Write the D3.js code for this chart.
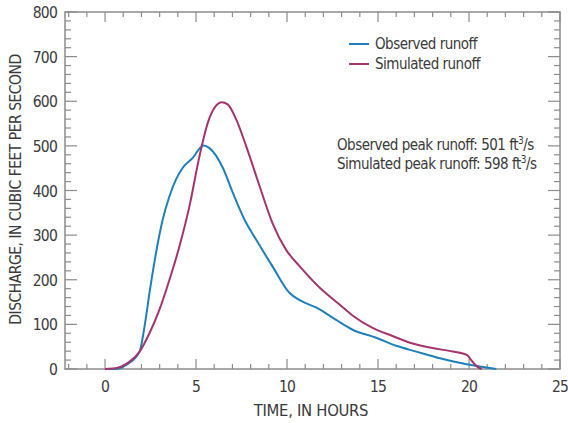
<!DOCTYPE html>
<html>
<head>
<meta charset="utf-8">
<script src="https://cdn.jsdelivr.net/npm/d3@7"></script>
<style>
  body { margin: 0; background: #fff; }
  svg text { font-family: "Liberation Sans Narrow", "DejaVu Sans Condensed", "Roboto", sans-serif; fill: #3a3a3a; }
</style>
</head>
<body>
<svg id="chart" width="568" height="423"></svg>
<script>
// hydrograph, values
var obs_hours = [0, 0.6, 1.16, 1.9, 2.17, 2.44, 2.8, 3.17, 3.54, 3.9, 4.27, 4.82, 5.4, 5.74, 6.47, 7.02, 7.66, 8.3, 9.2, 10.1, 10.8, 11.7, 12.7, 13.6, 14.9, 16.0, 17.1, 18.4, 19.8, 21.5];
var obs_cfs   = [0, 0, 9, 39, 95, 170, 260, 335, 387, 425, 451, 473, 501, 495, 451, 395, 335, 290, 230, 172, 152, 136, 110, 88, 70, 52, 39, 24, 11, 0];

var sim_hours = [0, 0.7, 1.34, 1.9, 2.44, 2.99, 3.54, 4.09, 4.64, 5.19, 5.65, 6.1, 6.4, 6.74, 7.2, 7.75, 8.49, 9.2, 9.95, 10.7, 11.8, 12.9, 13.6, 14.7, 15.8, 16.9, 18.0, 19.1, 19.9, 20.1, 20.4, 20.7];
var sim_cfs   = [0, 3, 16, 39, 80, 133, 200, 275, 365, 477, 552, 590, 598, 593, 560, 500, 410, 327, 267, 230, 182, 144, 120, 92, 74, 57, 47, 39, 31, 21, 7, 0];

var x_ticks = [0, 5, 10, 15, 20, 25];
var y_ticks = [0, 100, 200, 300, 400, 500, 600, 700, 800];

var series_names = ['Observed runoff', 'Simulated runoff'];
var series_colors = ['#1f80b9', '#a3346e'];

var svg = d3.select('#chart');

// note: 'top' is taken by window.top, so use m_* names
var m_left = 65, m_right = 560, m_top = 12, m_bottom = 369;

var x = d3.scaleLinear().domain([-2.2, 25]).range([m_left, m_right]);
var y = d3.scaleLinear().domain([0, 800]).range([m_bottom, m_top]);

var axis_color = '#8c8c8c';

// frame
svg.append('rect')
    .attr('x', m_left).attr('y', m_top)
    .attr('width', m_right - m_left).attr('height', m_bottom - m_top)
    .attr('fill', 'none')
    .attr('stroke', axis_color)
    .attr('stroke-width', 1.5);

// ticks, all pointing inward
var ticks = svg.append('g').attr('stroke', axis_color).attr('stroke-width', 1.2);

d3.range(-2, 26).forEach(function (h) {
    var len = (h % 5 == 0) ? 10 : 5;
    ticks.append('line')
        .attr('x1', x(h)).attr('x2', x(h))
        .attr('y1', m_bottom).attr('y2', m_bottom - len);
    ticks.append('line')
        .attr('x1', x(h)).attr('x2', x(h))
        .attr('y1', m_top).attr('y2', m_top + len);
});

d3.range(0, 801, 20).forEach(function (v) {
    var len = (v % 100 == 0) ? 12 : 6;
    ticks.append('line')
        .attr('x1', m_left).attr('x2', m_left + len)
        .attr('y1', y(v)).attr('y2', y(v));
    ticks.append('line')
        .attr('x1', m_right).attr('x2', m_right - len)
        .attr('y1', y(v)).attr('y2', y(v));
});

// tick labels
svg.append('g').selectAll('text')
    .data(y_ticks)
    .enter().append('text')
        .attr('x', 57)
        .attr('y', d => y(d) + 6)
        .attr('text-anchor', 'end')
        .style('font-size', '15.5px')
        .style('letter-spacing', '-0.8px')
        .text(d => d);

svg.append('g').selectAll('text')
    .data(x_ticks)
    .enter().append('text')
        .attr('x', d => x(d))
        .attr('y', 392)
        .attr('text-anchor', 'middle')
        .style('font-size', '15.5px')
        .style('letter-spacing', '-0.8px')
        .text(d => d);

// axis titles
svg.append('text')
    .attr('x', 311)
    .attr('y', 416)
    .attr('text-anchor', 'middle')
    .style('font-size', '16.5px')
    .style('letter-spacing', '-0.3px')
    .text('TIME, IN HOURS');

svg.append('text')
    .attr('transform', 'translate(21,' + ((m_top + m_bottom) / 2 - 1) + ') rotate(-90)')
    .attr('text-anchor', 'middle')
    .style('font-size', '15.5px')
    .style('letter-spacing', '-0.5px')
    .text('DISCHARGE, IN CUBIC FEET PER SECOND');

// curves
var line = d3.line()
    .x(d => x(d[0]))
    .y(d => y(d[1]))
    .curve(d3.curveMonotoneX);

var observed = d3.zip(obs_hours, obs_cfs);
var simulated = d3.zip(sim_hours, sim_cfs);

[observed, simulated].forEach(function (pts, i) {
    svg.append('path')
        .datum(pts)
        .attr('d', line)
        .attr('fill', 'none')
        .attr('stroke', series_colors[i])
        .attr('stroke-width', 2)
        .attr('stroke-linejoin', 'round');
});

// legend
series_names.forEach(function (name, i) {
    var ly = 44 + i * 20;
    svg.append('line')
        .attr('x1', 349).attr('x2', 369)
        .attr('y1', ly).attr('y2', ly)
        .attr('stroke', series_colors[i])
        .attr('stroke-width', 2);
    svg.append('text')
        .attr('x', 375)
        .attr('y', ly + 5)
        .style('font-size', '15px')
        .style('letter-spacing', '-0.5px')
        .text(name);
});

// peak notes
var notes = [
    ['Observed peak runoff: ', d3.max(obs_cfs)],
    ['Simulated peak runoff: ', d3.max(sim_cfs)],
];
notes.forEach(function (n, i) {
    var t = svg.append('text')
        .attr('x', 337)
        .attr('y', 150 + i * 19)
        .style('font-size', '15px')
        .style('letter-spacing', '-0.5px');
    t.append('tspan').text(n[0] + n[1] + ' ft');
    t.append('tspan').attr('dy', -6).style('font-size', '10px').text('3');
    t.append('tspan').attr('dy', 6).text('/s');
});
</script>
</body>
</html>
